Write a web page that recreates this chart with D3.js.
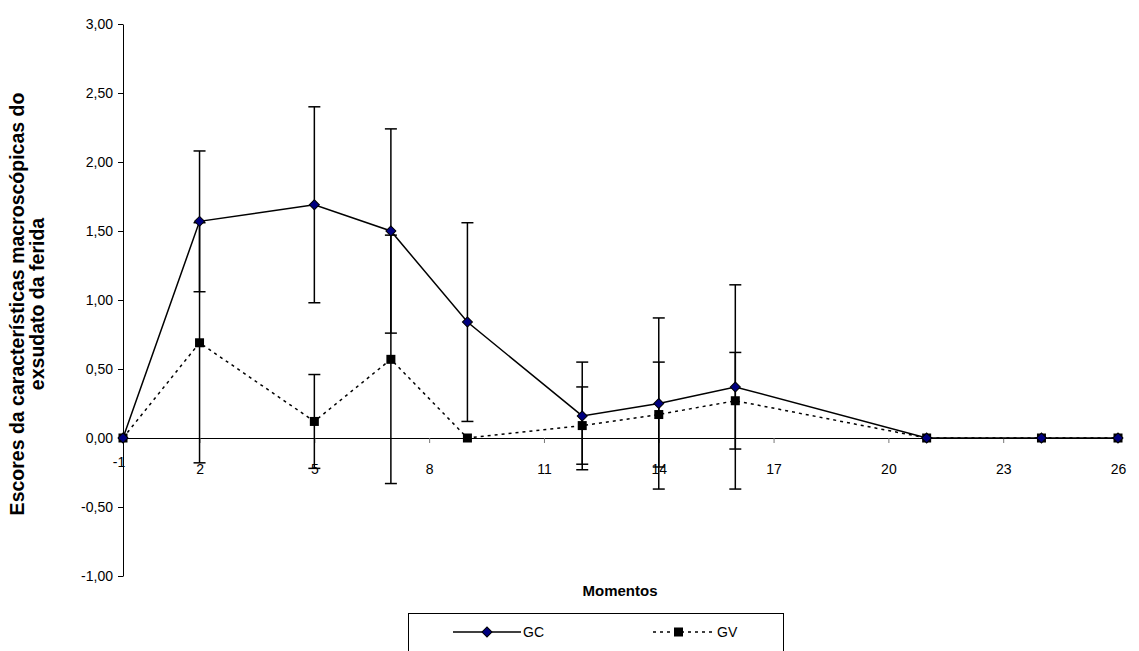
<!DOCTYPE html>
<html>
<head>
<meta charset="utf-8">
<script src="https://cdn.jsdelivr.net/npm/d3@7"></script>
<style>
  body { margin: 0; background: #fff; }
  svg { font-family: "Liberation Sans", Arial, sans-serif; }
</style>
</head>
<body>
<main></main>
<script>
// values
const moments = [0, 2, 5, 7, 9, 12, 14, 16, 21, 24, 26];
const gcMean = [0, 1.57, 1.69, 1.50, 0.84, 0.16, 0.25, 0.37, 0, 0, 0];
const gcSd = [0, 0.51, 0.71, 0.74, 0.72, 0.39, 0.62, 0.74, 0, 0, 0];
const gvMean = [0, 0.69, 0.12, 0.57, 0, 0.09, 0.17, 0.27, 0, 0, 0];
const gvSd = [0, 0.87, 0.34, 0.90, 0, 0.28, 0.38, 0.35, 0, 0, 0];
const xTicks = [-1, 2, 5, 8, 11, 14, 17, 20, 23, 26];
const yTicks = [-1, -0.5, 0, 0.5, 1, 1.5, 2, 2.5, 3];
const seriesNames = ["GC", "GV"];

const width = 1139;
const height = 651;
let dimensions = {
	width: width,
	height: height,
	margins: { top: 24, right: 21, bottom: 75, left: 123 },
};
dimensions.boundedWidth = dimensions.width - dimensions.margins.left - dimensions.margins.right;
dimensions.boundedHeight = dimensions.height - dimensions.margins.top - dimensions.margins.bottom;

const svg = d3.select("main")
	.append("svg")
	.attr("width", dimensions.width)
	.attr("height", dimensions.height);

const graph = svg.append("g")
	.attr("transform", `translate(${dimensions.margins.left},${dimensions.margins.top})`);

const xScale = d3.scaleLinear()
	.domain([0, 26])
	.range([0, dimensions.boundedWidth]);

const yScale = d3.scaleLinear()
	.domain([-1, 3])
	.range([dimensions.boundedHeight, 0]);

const fmt = v => d3.format(".2f")(v).replace(".", ",").replace("−", "-");

// y axis
const yAxis = graph.append("g")
	.call(d3.axisLeft(yScale).tickValues(yTicks).tickFormat(fmt).tickSize(5).tickSizeOuter(0));
yAxis.select(".domain").attr("stroke", "#000");
yAxis.selectAll(".tick line").attr("stroke", "#000");
yAxis.selectAll(".tick text")
	.attr("x", -10)
	.style("font-size", "14px")
	.attr("fill", "#000");

// x axis crossing at y = 0
const xAxis = graph.append("g")
	.attr("transform", `translate(0,${yScale(0)})`)
	.call(d3.axisBottom(xScale).tickValues(xTicks.filter(d => d >= 0)).tickFormat(d3.format("d")).tickSize(5).tickSizeOuter(0));
xAxis.select(".domain").attr("stroke", "#000");
xAxis.selectAll(".tick line").attr("stroke", "#777");
xAxis.selectAll(".tick text")
	.attr("y", 26)
	.style("font-size", "14px")
	.attr("fill", "#000");
// first label sits at the left edge
xAxis.append("text")
	.attr("x", xScale(0) - 4)
	.attr("y", 29)
	.attr("text-anchor", "middle")
	.style("font-size", "14px")
	.attr("fill", "#000")
	.text(xTicks[0]);

const gcData = moments.map((m, i) => ({ x: m, y: gcMean[i], sd: gcSd[i] }));
const gvData = moments.map((m, i) => ({ x: m, y: gvMean[i], sd: gvSd[i] }));

// error bars
function errorBars(data) {
	const g = graph.append("g").attr("stroke", "#000").attr("stroke-width", 1.5);
	data.filter(d => d.sd > 0).forEach(d => {
		const cx = xScale(d.x);
		const top = yScale(d.y + d.sd);
		const bot = yScale(d.y - d.sd);
		g.append("line").attr("x1", cx).attr("x2", cx).attr("y1", top).attr("y2", bot);
		g.append("line").attr("x1", cx - 6).attr("x2", cx + 6).attr("y1", top).attr("y2", top);
		g.append("line").attr("x1", cx - 6).attr("x2", cx + 6).attr("y1", bot).attr("y2", bot);
	});
}
errorBars(gvData);
errorBars(gcData);

const line = d3.line()
	.x(d => xScale(d.x))
	.y(d => yScale(d.y));

graph.append("path")
	.datum(gvData)
	.attr("d", line)
	.attr("fill", "none")
	.attr("stroke", "#000")
	.attr("stroke-width", 1.5)
	.attr("stroke-dasharray", "3,4");

graph.append("path")
	.datum(gcData)
	.attr("d", line)
	.attr("fill", "none")
	.attr("stroke", "#000")
	.attr("stroke-width", 1.5);

const diamond = d3.symbol().type(d3.symbolSquare).size(50);

graph.selectAll(".gv")
	.data(gvData)
	.enter()
	.append("rect")
	.attr("class", "gv")
	.attr("x", d => xScale(d.x) - 4.5)
	.attr("y", d => yScale(d.y) - 4.5)
	.attr("width", 9)
	.attr("height", 9)
	.attr("fill", "#000");

graph.selectAll(".gc")
	.data(gcData)
	.enter()
	.append("path")
	.attr("class", "gc")
	.attr("d", diamond)
	.attr("transform", d => `translate(${xScale(d.x)},${yScale(d.y)}) rotate(45)`)
	.attr("fill", "#000080")
	.attr("stroke", "#000")
	.attr("stroke-width", 1);

// axis titles
svg.append("text")
	.attr("x", 620)
	.attr("y", 596)
	.attr("text-anchor", "middle")
	.style("font-size", "15px")
	.style("font-weight", "bold")
	.text("Momentos");

const yTitle = svg.append("text")
	.attr("transform", "translate(24,304) rotate(-90)")
	.attr("text-anchor", "middle")
	.style("font-size", "19.5px")
	.style("font-weight", "bold");
yTitle.append("tspan").attr("x", 0).attr("dy", 0).text("Escores da características macroscópicas do");
yTitle.append("tspan").attr("x", 0).attr("dy", 20).text("exsudato da ferida");

// legend
const legend = svg.append("g");
legend.append("rect")
	.attr("x", 408.5)
	.attr("y", 613.5)
	.attr("width", 375)
	.attr("height", 40)
	.attr("fill", "#fff")
	.attr("stroke", "#000");

const gcLeg = legend.append("g");
gcLeg.append("line").attr("x1", 453).attr("x2", 521).attr("y1", 632).attr("y2", 632)
	.attr("stroke", "#000").attr("stroke-width", 1.5);
gcLeg.append("path").attr("d", diamond)
	.attr("transform", "translate(487,632) rotate(45)")
	.attr("fill", "#000080").attr("stroke", "#000");
gcLeg.append("text").attr("x", 523).attr("y", 637).style("font-size", "14px").text(seriesNames[0]);

const gvLeg = legend.append("g");
gvLeg.append("line").attr("x1", 653).attr("x2", 713).attr("y1", 632).attr("y2", 632)
	.attr("stroke", "#000").attr("stroke-width", 1.5).attr("stroke-dasharray", "3,4");
gvLeg.append("rect").attr("x", 674).attr("y", 627.5).attr("width", 9).attr("height", 9).attr("fill", "#000");
gvLeg.append("text").attr("x", 717).attr("y", 637).style("font-size", "14px").text(seriesNames[1]);
</script>
</body>
</html>
